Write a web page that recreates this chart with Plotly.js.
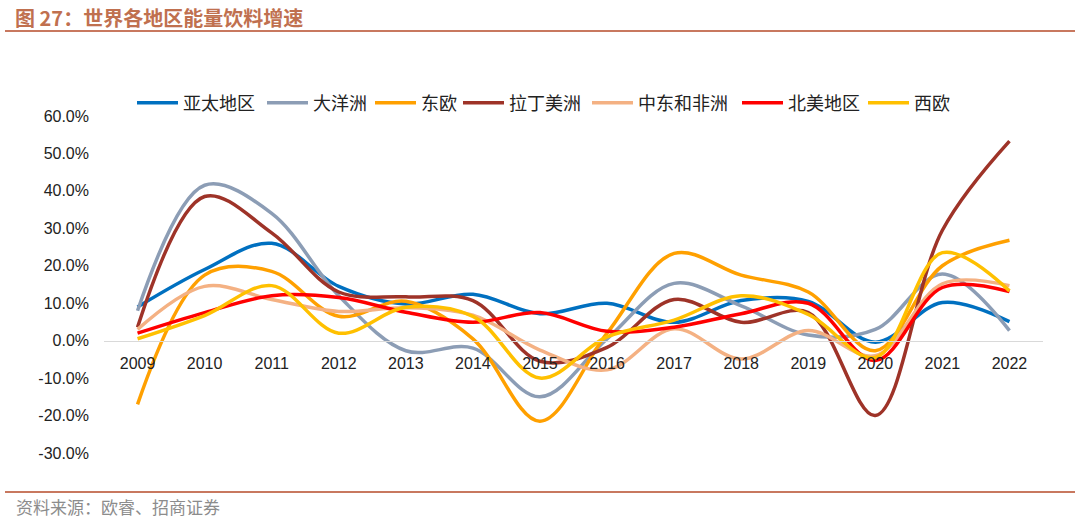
<!DOCTYPE html>
<html>
<head>
<meta charset="utf-8">
<script src="https://cdn.plot.ly/plotly-3.0.1.min.js"></script>
<style>
html,body{margin:0;padding:0;background:#fff;}
#chart{width:1080px;height:518px;}
</style>
</head>
<body>
<div id="chart"></div>
<script>
// Categories (years)
const years = ['2009','2010','2011','2012','2013','2014','2015','2016','2017','2018','2019','2020','2021','2022'];

// Series values (% growth)
const apac         = [9.0, 19.0, 26.0, 14.5, 9.8, 12.4, 7.2, 10.0, 4.9, 10.7, 10.5, -0.4, 10.2, 5.1];   // 亚太地区
const oceania      = [8.0, 41.5, 34.0, 12.0, -2.7, -2.0, -15.0, 0.5, 15.3, 9.3, 1.5, 3.0, 17.8, 2.7];   // 大洋洲
const eastEurope   = [-17.0, 17.5, 18.5, 6.5, 10.5, 0.5, -21.5, 2.0, 23.3, 17.5, 13.0, -2.7, 20.0, 26.8]; // 东欧
const latam        = [3.6, 38.5, 28.8, 13.0, 11.7, 10.7, -5.5, -1.8, 11.0, 4.9, 7.5, -20.0, 29.5, 53.3]; // 拉丁美洲
const mea          = [3.0, 14.5, 11.0, 7.8, 8.8, 6.8, -2.5, -7.8, 3.2, -4.9, 2.7, -4.0, 15.2, 14.7];    // 中东和非洲
const northAmerica = [2.0, 7.5, 12.0, 11.5, 7.6, 4.9, 7.5, 2.5, 3.6, 7.2, 10.0, -5.3, 14.2, 13.1];     // 北美地区
const westEurope   = [0.5, 6.7, 14.7, 2.0, 8.9, 6.5, -10.0, 1.0, 5.5, 12.0, 7.0, -4.5, 23.5, 13.3];    // 西欧

const seriesNames = ['亚太地区','大洋洲','东欧','拉丁美洲','中东和非洲','北美地区','西欧'];
const seriesData  = [apac, oceania, eastEurope, latam, mea, northAmerica, westEurope];
const seriesColors = ['#0070C0','#8C9DB5','#FFA000','#9E3328','#F4B183','#FF0000','#FFC000'];

// Y tick labels
const yTickVals = [-30,-20,-10,0,10,20,30,40,50,60];
const yTickText = ['-30.0%','-20.0%','-10.0%','0.0%','10.0%','20.0%','30.0%','40.0%','50.0%','60.0%'];

const titleText = '图 27：世界各地区能量饮料增速';
const sourceText = '资料来源：欧睿、招商证券';

const W = 1080, H = 518, L = 104, R = 37, T = 116, B = 65;
const pw = W - L - R, ph = H - T - B;
const px = x => (x - L) / pw;
const py = y => (H - B - y) / ph;

// legend entry left pixel positions (layout only)
const legendLeft = [137, 267, 375, 463, 592, 742, 868];

const legendIds = seriesNames.map((_, i) => i === 0 ? 'legend' : 'legend' + (i + 1));

const traces = seriesData.map((vals, i) => ({
  type: 'scatter',
  mode: 'lines',
  x: years,
  y: vals,
  name: seriesNames[i],
  legend: legendIds[i],
  line: {color: seriesColors[i], width: 3.5, shape: 'spline', smoothing: 1.0},
  hoverinfo: 'skip'
}));

const layout = {
  width: W, height: H,
  margin: {l: L, r: R, t: T, b: B, pad: 0},
  paper_bgcolor: '#ffffff',
  plot_bgcolor: '#ffffff',
  showlegend: true,
  title: {
    text: '<b>' + titleText + '</b>',
    xref: 'container', yref: 'container',
    x: 15 / W, xanchor: 'left',
    y: 1 - 19 / H, yanchor: 'middle',
    font: {family: '"Noto Sans CJK SC", sans-serif', size: 20, color: '#C0704F'}
  },
  xaxis: {
    type: 'category',
    range: [-0.5, 13.5],
    anchor: 'free',
    position: 1/3,
    showline: true,
    linecolor: '#D9D9D9',
    linewidth: 1,
    showgrid: false,
    zeroline: false,
    ticks: '',
    ticklabelstandoff: 8,
    tickfont: {family: '"Liberation Sans", Arial, sans-serif', size: 16, color: '#222222'},
    automargin: false,
    fixedrange: true
  },
  yaxis: {
    range: [-30, 60],
    domain: [0, 1],
    tickvals: yTickVals,
    ticktext: yTickText,
    showgrid: false,
    zeroline: false,
    showline: false,
    ticks: '',
    ticklabelstandoff: 14,
    tickfont: {family: '"Liberation Sans", Arial, sans-serif', size: 16, color: '#222222'},
    automargin: false,
    fixedrange: true
  },
  shapes: [
    {type: 'line', xref: 'paper', yref: 'paper', x0: px(5), x1: px(1075), y0: py(31), y1: py(31),
     line: {color: '#C8785F', width: 2}},
    {type: 'line', xref: 'paper', yref: 'paper', x0: px(5), x1: px(1075), y0: py(492), y1: py(492),
     line: {color: '#C8785F', width: 2}}
  ],
  annotations: [
    {text: sourceText, xref: 'paper', yref: 'paper', x: px(14), y: py(506),
     xanchor: 'left', yanchor: 'middle', showarrow: false,
     font: {family: '"Noto Sans CJK SC", sans-serif', size: 17, color: '#8C8C8C'}}
  ]
};

legendIds.forEach((id, i) => {
  layout[id] = {
    orientation: 'h',
    x: px(legendLeft[i] - 5), xanchor: 'left',
    y: py(103), yanchor: 'middle',
    font: {family: '"Noto Sans CJK SC", sans-serif', size: 18, color: '#222222'},
    itemwidth: 41,
    bgcolor: 'rgba(0,0,0,0)'
  };
});

Plotly.newPlot('chart', traces, layout, {displayModeBar: false, staticPlot: true});
</script>
</body>
</html>
